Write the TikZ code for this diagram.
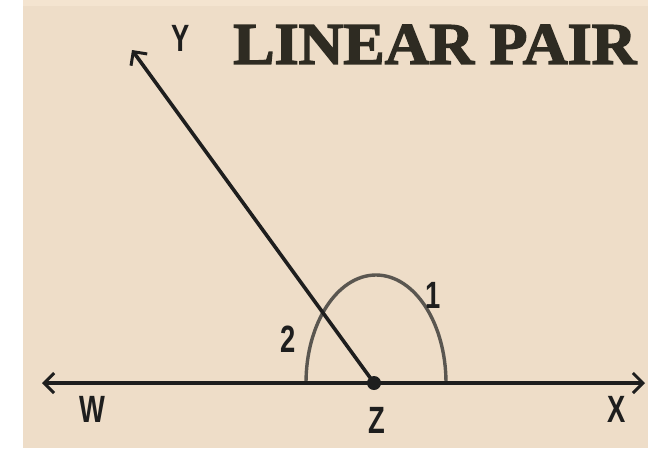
\documentclass[tikz,border=0pt]{standalone}
\usepackage{fontspec}
\setmainfont{Liberation Serif}
\setsansfont{Liberation Sans}[FakeStretch=0.72]
\usetikzlibrary{arrows.meta}
\definecolor{paper}{HTML}{EEDDC8}
\definecolor{paperTop}{HTML}{F4E4D0}
\definecolor{ink}{HTML}{1E1E1E}
\definecolor{titleInk}{HTML}{2E2B22}
\definecolor{arcInk}{HTML}{5A5650}
\tikzset{
  ray/.style={draw=ink, line width=3.6pt, arrows={-Straight Barb[length=10pt,width=20pt,line width=3pt]}},
  ptlabel/.style={font=\sffamily\bfseries\fontsize{38}{38}\selectfont, text=ink, inner sep=0pt}
}
\begin{document}
\begin{tikzpicture}[x=1pt,y=-1pt]
\useasboundingbox (0,0) rectangle (648,448);
\fill[white] (0,0) rectangle (648,448);
\fill[paperTop] (23,0) rectangle (648,6);
\fill[paper] (23,6) rectangle (648,448);
% points
\coordinate (Z) at (374,383);
\coordinate (W) at (42,383);
\coordinate (X) at (645,383);
\coordinate (Y) at (132,50);
% angle mark
\draw[arcInk, line width=3.4pt] (Z) ++(-68,0) arc[start angle=180, end angle=360, x radius=70, y radius=108];
% rays
\draw[ray] (Z) -- (W);
\draw[ray] (Z) -- (X);
\draw[ray] (Z) -- (Y);
\fill[ink] (Z) circle (7);
% labels
\node[ptlabel] (labY) at (181,38) {Y};
\node[ptlabel] (labW) at (92,409) {W};
\node[ptlabel] (labZ) at (377,420) {Z};
\node[ptlabel] (labX) at (617,409) {X};
\node[ptlabel] (lab1) at (433,295) {1};
\node[ptlabel] (lab2) at (288,339) {2};
\node[font=\bfseries\fontsize{59}{59}\selectfont, text=titleInk, inner sep=0pt, anchor=south west] (title) at (233,64) {\addfontfeatures{FakeStretch=1.05,FakeBold=2.5}LINEAR PAIR};
\end{tikzpicture}
\end{document}
